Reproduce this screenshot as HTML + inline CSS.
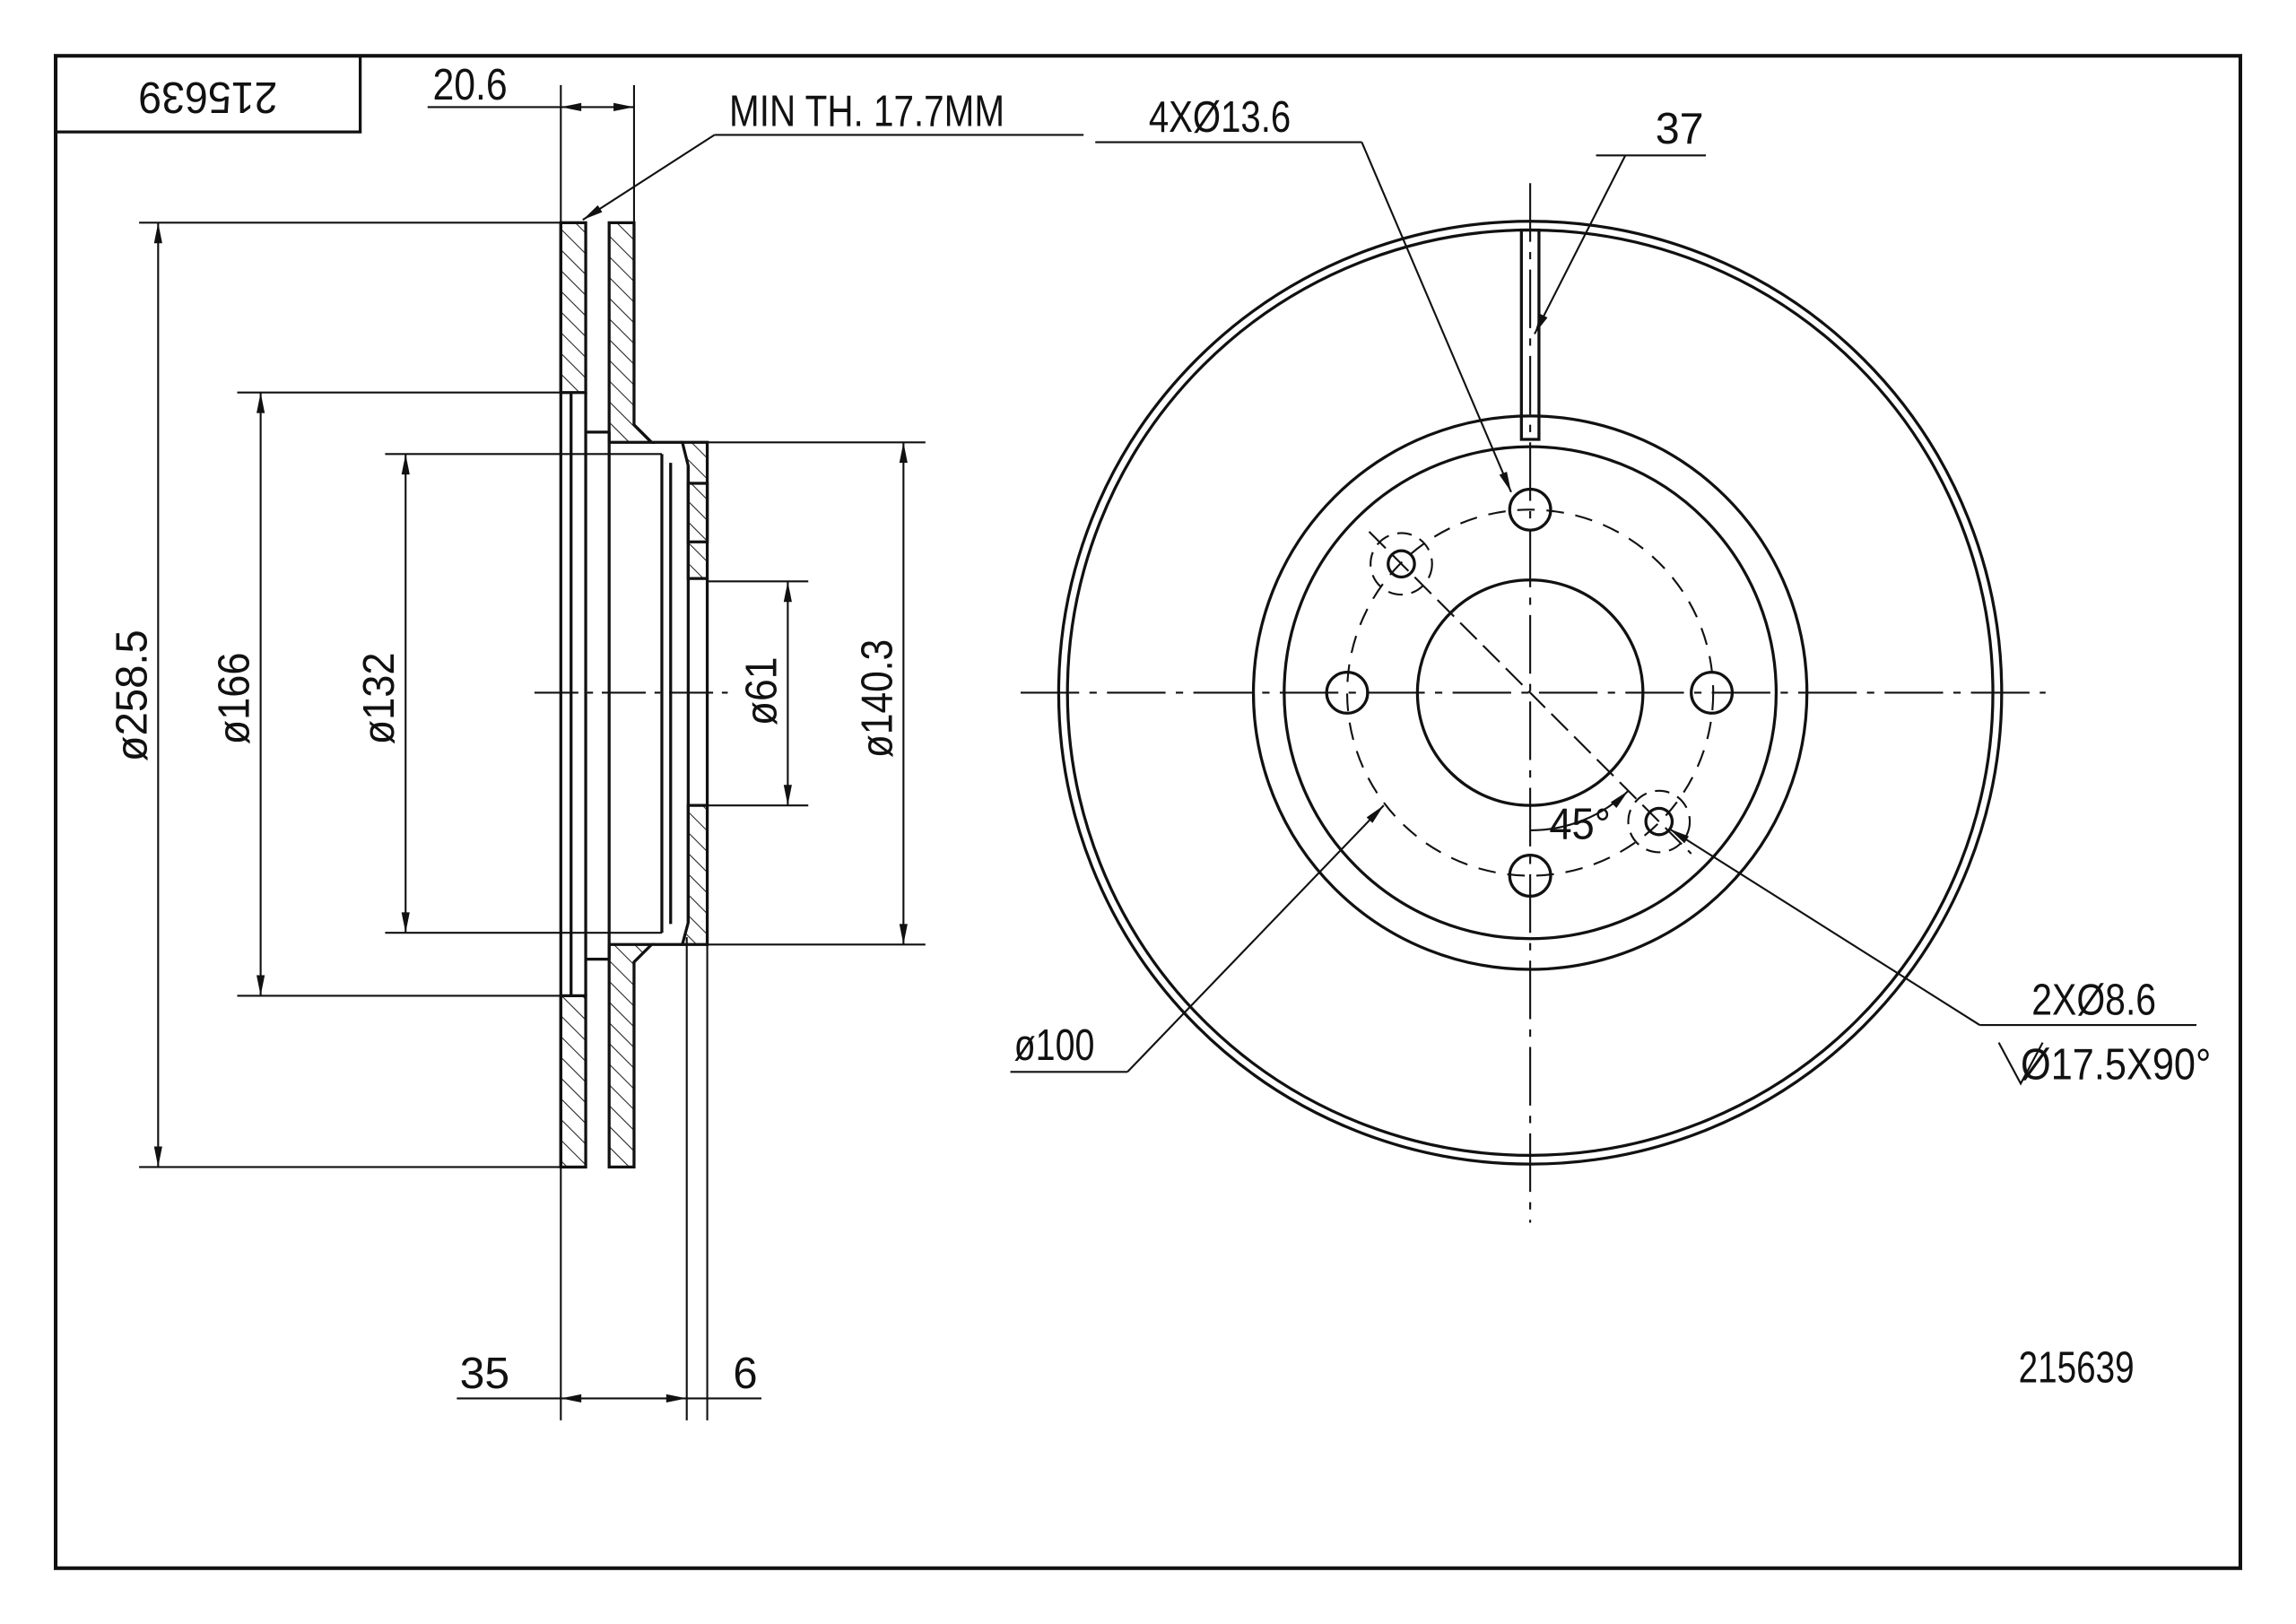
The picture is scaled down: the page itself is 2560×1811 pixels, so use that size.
<!DOCTYPE html>
<html><head><meta charset="utf-8"><style>
html,body{margin:0;padding:0;background:#fff;}
svg{display:block;}
text{font-family:"Liberation Sans",sans-serif;font-size:30px;fill:#111;}
</style></head><body>
<svg width="2560" height="1811" viewBox="0 0 1568 1109" xmlns="http://www.w3.org/2000/svg">
<defs>
<pattern id="h" patternUnits="userSpaceOnUse" width="10" height="10" patternTransform="rotate(-45)">
<line x1="0" y1="0" x2="0" y2="10" stroke="#222" stroke-width="1.3"/>
</pattern>
<marker id="a" viewBox="0 0 16 8" refX="16" refY="4" markerWidth="16" markerHeight="7" orient="auto-start-reverse" markerUnits="userSpaceOnUse"><path d="M0,0.8 L16,4 L0,7.2 z" fill="#111"/></marker>
</defs>
<rect width="1568" height="1109" fill="#fff"/>
<g fill="none" stroke="#111" stroke-width="2">
<rect x="38" y="38" width="1492" height="1033" stroke-width="2.5"/>
<polyline points="38,90 246,90 246,38"/>
</g>
<text x="142" y="64" text-anchor="middle" transform="rotate(180 142 64)" dominant-baseline="middle" textLength="95" lengthAdjust="spacingAndGlyphs">215639</text>

<!-- side view -->
<g stroke="#111" stroke-width="2" fill="none">
<rect x="383" y="152" width="17" height="116" fill="url(#h)"/>
<rect x="383" y="680" width="17" height="117" fill="url(#h)"/>
<path d="M416,152 H433 V290 L445,302 H416 Z" fill="url(#h)"/>
<path d="M416,797 H433 V657 L445,645 H416 Z" fill="url(#h)"/>
<path d="M466,302 H483 V395 H470 V318 Z" fill="url(#h)"/>
<path d="M466,645 H483 V550 H470 V630 Z" fill="url(#h)"/>
<line x1="383" y1="152" x2="383" y2="797"/>
<line x1="390" y1="268" x2="390" y2="680"/>
<line x1="400" y1="268" x2="400" y2="680"/>
<line x1="416" y1="295" x2="416" y2="655"/>
<line x1="445" y1="302" x2="466" y2="302"/>
<line x1="445" y1="645" x2="466" y2="645"/>
<line x1="452" y1="310" x2="452" y2="637"/>
<line x1="458" y1="316" x2="458" y2="631"/>
<line x1="470" y1="318" x2="470" y2="630"/>
<rect x="470" y="330" width="13" height="40"/>
<line x1="483" y1="395" x2="483" y2="550"/>
<line x1="400" y1="295" x2="416" y2="295"/>
<line x1="400" y1="655" x2="416" y2="655"/>
</g>
<g stroke="#111" stroke-width="1.3" fill="none">
<line x1="365" y1="473" x2="500" y2="473" stroke-dasharray="30,6,4,6"/>
<line x1="95" y1="152" x2="383" y2="152"/><line x1="95" y1="797" x2="383" y2="797"/>
<line x1="162" y1="268" x2="390" y2="268"/><line x1="162" y1="680" x2="390" y2="680"/>
<line x1="263" y1="310" x2="452" y2="310"/><line x1="263" y1="637" x2="452" y2="637"/>
<line x1="483" y1="397" x2="552" y2="397"/><line x1="483" y1="550" x2="552" y2="550"/>
<line x1="483" y1="302" x2="632" y2="302"/><line x1="483" y1="645" x2="632" y2="645"/>
<line x1="108" y1="152" x2="108" y2="797" marker-start="url(#a)" marker-end="url(#a)"/>
<line x1="178" y1="268" x2="178" y2="680" marker-start="url(#a)" marker-end="url(#a)"/>
<line x1="277" y1="310" x2="277" y2="637" marker-start="url(#a)" marker-end="url(#a)"/>
<line x1="538" y1="397" x2="538" y2="550" marker-start="url(#a)" marker-end="url(#a)"/>
<line x1="617" y1="302" x2="617" y2="645" marker-start="url(#a)" marker-end="url(#a)"/>
<line x1="383" y1="58" x2="383" y2="152"/><line x1="433" y1="58" x2="433" y2="152"/>
<line x1="292" y1="73" x2="383" y2="73"/>
<line x1="383" y1="73" x2="433" y2="73" marker-start="url(#a)" marker-end="url(#a)"/>
<line x1="740" y1="92" x2="488" y2="92"/>
<line x1="488" y1="92" x2="398" y2="150" marker-end="url(#a)"/>
<line x1="383" y1="797" x2="383" y2="970"/>
<line x1="469" y1="640" x2="469" y2="970"/>
<line x1="483" y1="645" x2="483" y2="970"/>
<line x1="312" y1="955" x2="383" y2="955"/>
<line x1="383" y1="955" x2="469" y2="955" marker-start="url(#a)" marker-end="url(#a)"/>
<line x1="469" y1="955" x2="483" y2="955"/>
<line x1="483" y1="955" x2="520" y2="955"/>
</g>
<text x="100" y="475" text-anchor="middle" transform="rotate(-90 100 475)" textLength="90" lengthAdjust="spacingAndGlyphs">ø258.5</text>
<text x="170" y="477" text-anchor="middle" transform="rotate(-90 170 477)" textLength="63" lengthAdjust="spacingAndGlyphs">ø166</text>
<text x="269" y="477" text-anchor="middle" transform="rotate(-90 269 477)" textLength="63" lengthAdjust="spacingAndGlyphs">ø132</text>
<text x="530" y="472" text-anchor="middle" transform="rotate(-90 530 472)" textLength="47" lengthAdjust="spacingAndGlyphs">ø61</text>
<text x="609" y="477" text-anchor="middle" transform="rotate(-90 609 477)" textLength="81" lengthAdjust="spacingAndGlyphs">ø140.3</text>
<text x="321" y="68" text-anchor="middle" textLength="51" lengthAdjust="spacingAndGlyphs">20.6</text>
<text x="592" y="86" text-anchor="middle" textLength="188" lengthAdjust="spacingAndGlyphs">MIN TH. 17.7MM</text>
<text x="331" y="948" text-anchor="middle" textLength="34" lengthAdjust="spacingAndGlyphs">35</text>
<text x="509" y="948" text-anchor="middle">6</text>

<!-- front view -->
<g stroke="#111" stroke-width="2" fill="none">
<circle cx="1045" cy="473" r="322"/>
<circle cx="1045" cy="473" r="316"/>
<circle cx="1045" cy="473" r="189"/>
<circle cx="1045" cy="473" r="168"/>
<circle cx="1045" cy="473" r="77"/>
<circle cx="1045" cy="348" r="14"/>
<circle cx="920" cy="473" r="14"/>
<circle cx="1169" cy="473" r="14"/>
<circle cx="1045" cy="598" r="14"/>
<circle cx="957" cy="385" r="9"/>
<circle cx="1133" cy="561" r="9"/>
<rect x="1039" y="157" width="12" height="143"/>
</g>
<g stroke="#111" stroke-width="1.3" fill="none">
<circle cx="1045" cy="473" r="125" stroke-dasharray="12,8"/>
<circle cx="957" cy="385" r="21" stroke-dasharray="10,6"/>
<circle cx="1133" cy="561" r="21" stroke-dasharray="10,6"/>
<line x1="697" y1="473" x2="1397" y2="473" stroke-dasharray="40,7,5,7"/>
<line x1="1045" y1="125" x2="1045" y2="835" stroke-dasharray="40,7,5,7"/>
<line x1="935" y1="363" x2="1155" y2="583" stroke-dasharray="16,6"/>
<line x1="748" y1="97" x2="930" y2="97"/>
<line x1="930" y1="97" x2="1032" y2="336" marker-end="url(#a)"/>
<line x1="1090" y1="106" x2="1165" y2="106"/>
<line x1="1110" y1="106" x2="1048" y2="228" marker-end="url(#a)"/>
<line x1="1500" y1="700" x2="1352" y2="700"/>
<line x1="1352" y1="700" x2="1140" y2="566" marker-end="url(#a)"/>
<line x1="690" y1="732" x2="770" y2="732"/>
<line x1="770" y1="732" x2="945" y2="550" marker-end="url(#a)"/>
<path d="M1045,567 A95,95 0 0 0 1112,540" marker-end="url(#a)"/>
<path d="M1365,712 L1380,740 L1395,712"/>
</g>
<text x="833" y="90" text-anchor="middle" textLength="97" lengthAdjust="spacingAndGlyphs">4XØ13.6</text>
<text x="1147" y="98" text-anchor="middle" textLength="33" lengthAdjust="spacingAndGlyphs">37</text>
<text x="1430" y="693" text-anchor="middle" textLength="85" lengthAdjust="spacingAndGlyphs">2XØ8.6</text>
<text x="1445" y="737" text-anchor="middle" textLength="130" lengthAdjust="spacingAndGlyphs">Ø17.5X90°</text>
<text x="720" y="724" text-anchor="middle" textLength="55" lengthAdjust="spacingAndGlyphs">ø100</text>
<text x="1079" y="573" text-anchor="middle" textLength="42" lengthAdjust="spacingAndGlyphs">45°</text>
<text x="1418" y="944" text-anchor="middle" textLength="79" lengthAdjust="spacingAndGlyphs">215639</text>
</svg>
</body></html>
